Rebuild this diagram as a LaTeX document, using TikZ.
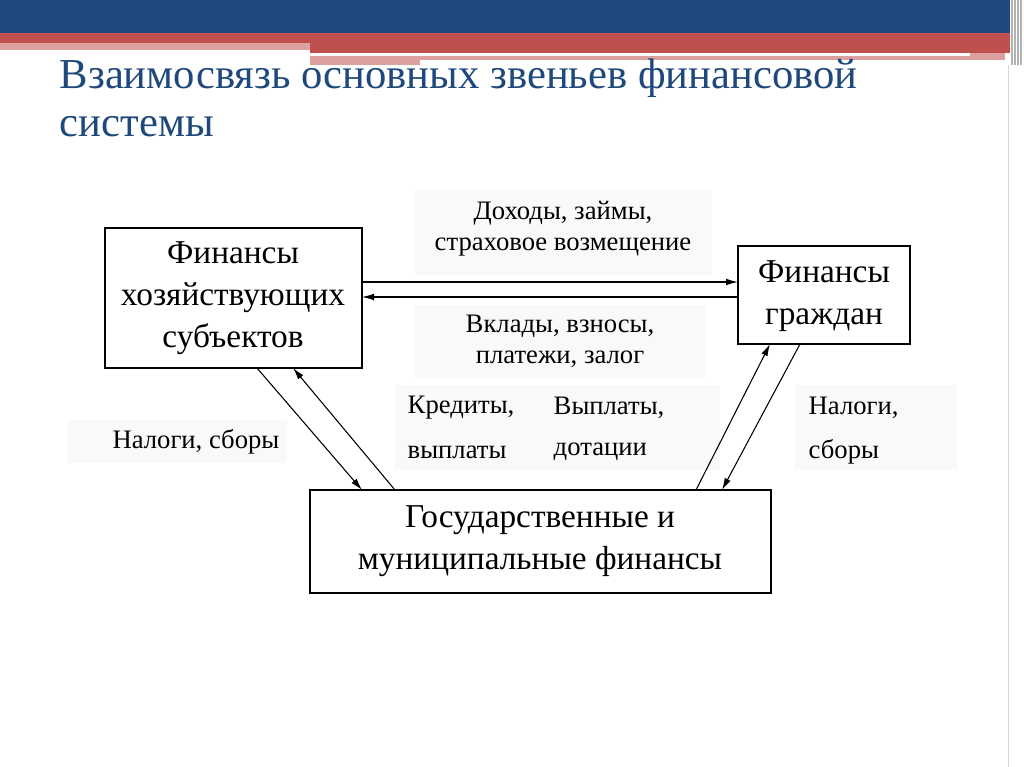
\documentclass[tikz,border=0pt]{standalone}
\usepackage{fontspec}
\usetikzlibrary{arrows.meta}
\setmainfont{Liberation Serif}
\definecolor{bblue}{RGB}{31,73,125}
\definecolor{bred}{RGB}{192,80,77}
\definecolor{bpink}{RGB}{220,160,158}
\begin{document}
\begin{tikzpicture}[x=0.75pt,y=-0.75pt,
  box/.style={draw,line width=0.9pt,fill=white},
  lbl/.style={fill=gray!5,draw=none},
  big/.style={font=\fontsize{25}{31.5}\selectfont,align=center},
  sm/.style={font=\fontsize{20}{23}\selectfont,align=center},
  arr/.style={-{Latex[length=9pt,width=5pt]},line width=0.8pt}]
\useasboundingbox (0,0) rectangle (1024,767);
\fill[white] (0,0) rectangle (1024,767);
% banner
\fill[bblue] (0,0) rectangle (1010,33);
\fill[bred] (0,33) rectangle (1010,43);
\fill[bred] (310,43) rectangle (1010,53);
\fill[bpink] (0,43) rectangle (310,50);
\fill[bpink] (310,53) rectangle (1005,65);
\fill[white] (310,53) rectangle (970,56);
\fill[white] (420,60) rectangle (1005,65);
\foreach \x in {1012,1015,1018,1021}{\draw[gray!60,line width=0.8pt] (\x,0) -- (\x,65);}
\draw[gray!30] (1008,65) -- (1008,767);
% title
\node[anchor=west,font=\fontsize{32}{38}\selectfont,text=bblue] (t1) at (55,78) {Взаимосвязь основных звеньев финансовой};
\node[anchor=west,font=\fontsize{32}{38}\selectfont,text=bblue] (t2) at (55,127) {системы};
% label backgrounds
\fill[lbl] (415,190) rectangle (712,275);
\node[sm] (L1t) at (563,229) {Доходы, займы,\\страховое возмещение};
\fill[lbl] (415,305) rectangle (705,378);
\node[sm] (L2t) at (560,341) {Вклады, взносы,\\платежи, залог};
\fill[lbl] (67,420) rectangle (287,463);
\node[sm] (L3t) at (196,442) {Налоги, сборы};
\fill[lbl] (395,385) rectangle (720,470);
\node[sm,anchor=west] (L4a) at (403,408) {Кредиты,};
\node[sm,anchor=west] (L4b) at (403,452) {выплаты};
\node[sm,anchor=west] (L4c) at (549,408) {Выплаты,};
\node[sm,anchor=west] (L4d) at (549,452) {дотации};
\fill[lbl] (795,385) rectangle (957,470);
\node[sm,anchor=west] (L5a) at (804,408) {Налоги,};
\node[sm,anchor=west] (L5b) at (804,452) {сборы};
% boxes
\draw[box] (105,228) rectangle (362,368);
\node[big] (A) at (233,298) {Финансы\\хозяйствующих\\субъектов};
\draw[box] (738,246) rectangle (910,344);
\node[big] (B) at (824,296) {Финансы\\граждан};
\draw[box] (310,490) rectangle (771,593);
\node[big] (C) at (540,541) {Государственные и\\муниципальные финансы};
% arrows
\coordinate (a1) at (362,282); \coordinate (b1) at (738,282);
\coordinate (a2) at (362,297); \coordinate (b2) at (738,297);
\draw[arr] (a1) -- (b1);
\draw[arr] (b2) -- (a2);
\coordinate (a3) at (257,368); \coordinate (c3) at (362,490);
\coordinate (a4) at (293,368); \coordinate (c4) at (395,490);
\draw[arr] (a3) -- (c3);
\draw[arr] (c4) -- (a4);
\coordinate (c5) at (696,490); \coordinate (b5) at (770,344);
\coordinate (b6) at (800,344); \coordinate (c6) at (722,490);
\draw[arr] (c5) -- (b5);
\draw[arr] (b6) -- (c6);
\end{tikzpicture}
\end{document}
